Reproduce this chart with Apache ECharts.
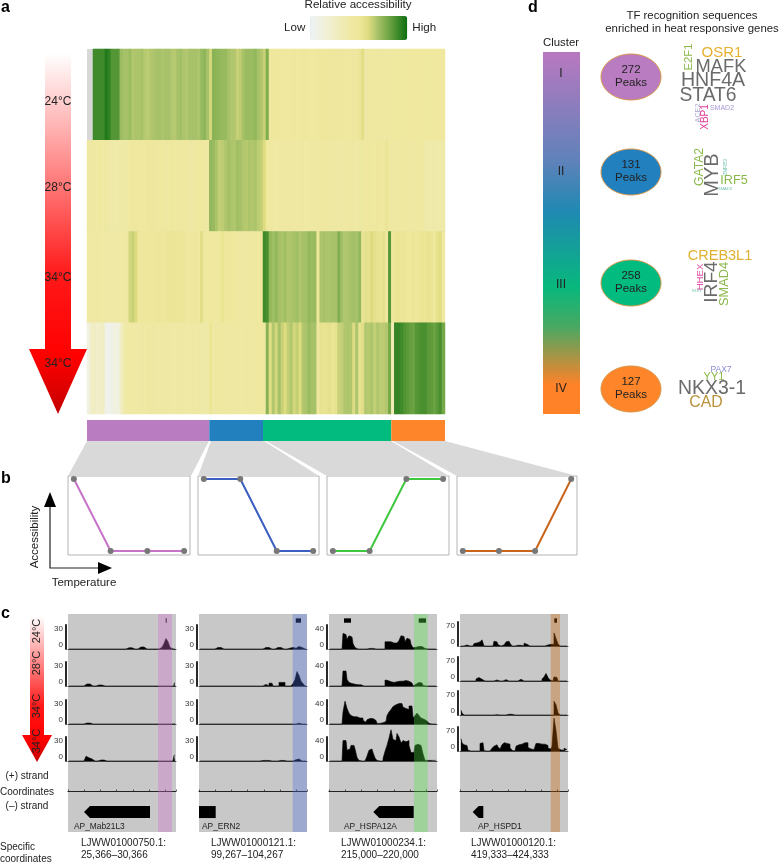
<!DOCTYPE html>
<html>
<head>
<meta charset="utf-8">
<style>
  html, body { margin: 0; padding: 0; background: #fff; }
  #chart { width: 781px; height: 863px; }
</style>
<script src="https://cdn.jsdelivr.net/npm/echarts@6/dist/echarts.min.js"></script>
</head>
<body>
<div id="chart"></div>
<script>
// panel a: relative accessibility, 4 conditions x 120 columns (null = no data)
const heatRow24 = [
  null,null,9.0,9.0,9.0,9.0,9.6,9.3,8.6,8.6,
  8.6,7.2,7.0,7.0,7.2,6.8,6.9,6.9,7.0,6.7,
  6.6,6.8,6.9,7.0,7.0,6.9,7.0,7.0,6.8,6.7,
  7.0,7.1,6.9,6.8,7.0,7.0,7.0,6.9,7.3,7.5,
  7.0,6.2,7.6,7.5,7.4,7.3,7.3,7.0,6.8,6.8,
  6.4,6.6,7.0,7.2,7.2,7.2,7.4,7.0,6.8,6.4,
  7.8,4.8,4.9,4.8,4.8,4.7,4.8,4.7,4.8,4.8,
  4.6,4.6,4.8,4.8,4.7,4.6,4.6,4.9,5.0,5.0,
  4.9,4.9,5.0,5.0,4.8,4.8,4.7,4.6,4.7,4.8,
  4.8,5.2,5.8,4.4,4.5,4.5,4.6,4.6,4.5,4.4,
  4.5,4.5,4.5,4.6,4.6,4.6,4.5,4.7,4.7,4.7,
  4.6,4.7,4.7,4.6,4.6,4.7,4.7,4.6,4.7,4.7
];
const heatRow28 = [
  4.3,4.4,4.3,4.2,4.6,4.2,4.3,3.9,3.9,3.8,
  3.9,4.0,3.9,4.0,4.7,4.8,4.8,4.7,4.7,4.6,
  4.9,4.8,4.8,4.7,4.7,4.6,4.5,4.6,4.8,4.6,
  4.5,4.5,4.7,4.7,4.4,4.4,4.5,4.7,4.7,4.5,
  4.4,7.4,7.3,6.9,6.5,6.6,6.8,7.0,6.9,6.8,
  7.1,7.0,6.8,6.7,6.9,6.8,6.9,6.6,6.5,6.0,
  4.6,4.5,4.3,4.2,4.3,4.2,4.4,4.3,4.3,4.3,
  4.2,4.4,4.4,4.2,4.4,4.3,4.3,4.4,4.5,4.6,
  4.4,4.3,4.4,4.5,4.2,4.3,4.4,4.2,4.3,4.5,
  4.2,4.4,4.5,4.7,4.8,4.6,4.6,4.9,4.6,4.7,
  5.2,4.6,4.3,4.4,4.3,4.5,4.4,4.4,4.3,4.3,
  4.5,4.6,4.4,3.9,3.8,3.8,3.9,3.8,3.8,3.9
];
const heatRow34a = [
  4.1,4.3,4.2,4.3,4.1,4.2,4.0,4.1,4.0,4.1,
  4.1,4.2,4.1,4.4,6.2,6.4,6.0,5.0,4.9,5.0,
  4.9,5.0,5.0,5.1,5.1,5.0,5.1,5.2,5.2,5.2,
  5.1,5.2,5.1,4.8,4.7,4.8,4.9,4.7,5.8,4.7,
  4.6,4.7,4.7,4.6,4.6,5.3,4.9,4.9,5.0,4.7,
  4.5,4.5,4.4,4.4,4.5,4.4,4.6,4.7,4.8,9.0,
  8.8,7.4,7.1,7.4,7.0,6.9,7.1,6.8,6.9,7.0,
  7.1,6.8,7.0,7.0,7.4,7.2,7.3,5.0,6.9,7.0,
  6.9,6.9,7.0,7.0,7.8,7.1,6.8,6.9,7.0,7.1,
  7.0,7.4,5.3,5.6,5.5,6.0,5.6,5.4,5.3,5.6,
  5.0,8.6,5.0,5.2,5.3,5.1,5.2,5.0,5.0,5.1,
  5.0,5.1,5.3,5.2,5.4,5.3,5.0,5.5,5.8,4.2
];
const heatRow34b = [
  1.0,2.4,2.6,2.2,2.4,2.6,0.6,0.5,0.8,1.2,
  1.0,2.4,3.8,4.1,4.2,4.1,4.2,4.1,4.3,4.2,
  4.4,4.3,4.4,4.3,4.2,4.4,4.3,4.4,4.2,4.2,
  4.4,4.3,4.4,4.2,4.1,4.3,4.2,4.3,4.0,4.0,
  4.0,5.2,4.4,4.5,4.4,4.5,4.5,4.3,4.4,4.4,
  4.3,4.2,4.4,4.5,4.4,4.4,4.5,4.6,4.7,4.4,
  7.6,5.8,6.8,6.2,7.0,6.4,6.0,6.5,6.8,6.2,
  6.5,6.0,6.8,6.9,7.2,7.0,7.0,4.8,5.5,5.3,
  5.4,5.6,5.2,5.5,6.4,6.5,6.8,6.9,6.8,6.0,
  6.9,5.5,5.8,6.8,6.7,6.9,6.5,6.8,6.6,6.6,
  6.8,8.0,3.0,9.2,9.2,9.0,8.7,8.5,8.3,8.2,
  8.6,8.7,8.8,8.8,8.5,8.4,8.2,8.5,8.8,8.0
];
const clusterColumns = [41, 18, 43, 18];
const clusterColors = ['#b97cc1', '#2380bf', '#02bb7e', '#ff852b'];

// panel b: accessibility pattern of each cluster over the four conditions
const patternI = [1, 0, 0, 0];
const patternII = [1, 1, 0, 0];
const patternIII = [0, 0, 1, 1];
const patternIV = [0, 0, 0, 1];

// panel c: signal per 2 px bin (54 bins), one list per locus and condition
const mab21_24 = [
  0,0,0,0,0,0,0,0,0,0,0,0,0,0,0,0,0,0,
  0,0,0,0,0,0,0,0,0,0,0,1.5,1.5,1.5,0,0,0,0,
  2.5,2.5,2.5,0,0,0,0,0,0,0,2,3,7,13,9,2,0,0
];
const mab21_28 = [
  0,0,0,0,0,0,0,0,2.5,2.5,2.5,0,0,0,0,1.2,1.2,1.2,
  0,0,0,0,0,0,0,0,0,0,0,0,0,0,0,0,0,0,
  0,0,0,0,0,0,0,0,0,0,0,0,0,0,0,0,0,3.5
];
const mab21_34a = [
  0,0,0,0,0,0,0,0,0,1.2,1.2,1.2,0,0,0,0,0,0,
  0,0,0,0,0,0,0,0,0,0,0,0,0,0,0,0,0,0,
  0,0,0,0,0,0,0,0,0,0,0,0,0,0,0,0,0,1
];
const mab21_34b = [
  0,0,0,0,0,0,0,0,2.5,6,4,2.5,0,0,0,1.2,1.2,1.2,
  0,0,0,0,0,0,0,0,0,0,0,0,0,0,0,0,0,0,
  0,0,0,0,0,0,0,0,0,0,0,0,0,0,0,0,0,7
];
const ern2_24 = [
  0,0,0,0,0,0,0,0,0,1.8,1.8,1.8,0,0,0,0,0,0,
  0,0,0,0,0,0,0,0,0,0,0,0,0,0,0,1.8,1.8,1.8,
  0,0,1.8,1.8,1.8,0,0,0,0,1,2,2,1,3,5,2,0,0
];
const ern2_28 = [
  0,0,0,0,0,0,0,0,0,0,0,0,0,0,0,0,0,0,
  0,0,0,0,0,0,0,0,0,0,0,0,0,0,2,2,0,3.5,
  3.5,0,0,0,4.5,4.5,4.5,0,0,0,0,3,8,18,13,6,3,0
];
const ern2_34a = [
  0,0,0,0,0,0,0,0,0,0,0,0,0,0,0,0,0,0,
  0,0,0,0,0,0,0,0,0,0,0,0,0,0,0,0,0,0,
  0,0,0,0,0,0,0,0,0,0,0,0,0,1,0,0,0,0
];
const ern2_34b = [
  0,0,0,0,0,0,0,0,0,0,0,0,0,0,0,0,0,0,
  0,0,0,0,0,0,0,0,0,0,0,0,0,0.7,0.7,0.7,0.7,0,
  0,0,0,0,0.7,0.7,0.7,0,0,0,0,0,1.5,2.5,1,0,0,0
];
const hspa_24 = [
  0,0,0,0,0,0,0,26,24,16,22,20,9,2.5,0,0,0,0,
  0,0,1,1,1,0,0,0,0,0,12,12,12,12,10,10,12,14,
  22,21,12,18,16,8,2,3,4,5,4,1,0,0,0,0,0,0
];
const hspa_28 = [
  0,0,0,0,0,0,0,25,25,11,6,4,3,2,2,2,2,0,
  0,0,0,0,0,0,0,0,0,0,10,9,7,6,6,7,7,8,
  8,9,9,8,6,5,0,3,6,8,5,1,0,0,0,0,0,0
];
const hspa_34a = [
  0,0,0,0,0,0,0,20,38,26,18,14,12,12,11,10,10,6,
  3,7,9,9,9,6,1,1,2,2,4,14,20,24,29,32,34,34,
  34,28,26,24,30,30,10,14,18,14,10,8,5,3,1,0,0,0
];
const hspa_34b = [
  0,0,0,0,0,0,0,34,34,18,20,26,26,20,6,1,0,0,
  0,8,18,20,14,5,1,0,0,4,16,26,38,52,36,34,46,40,
  30,34,32,34,26,14,14,26,28,26,24,12,1,1,1,1,1,1
];
const hspd_24 = [
  0,0,3,3,0,0,0,7,9,12,14,18,0,0,0,0,0,14,
  12,4,0,3,0,12,14,8,0,0,2,0,2,0,8,5,0,0,
  0,0,0,0,0,0,0,3,6,5,5,38,22,6,0,0,0,0
];
const hspd_28 = [
  0,0,0,0,0,0,0,0,6,10,5,0,0,0,0,0,0,0,
  3,0,0,0,4,0,0,0,0,0,0,0,5,0,0,0,0,0,
  0,0,0,0,0,6,12,22,10,3,0,12,10,0,0,0,0,0
];
const hspd_34a = [
  14,6,0,0,0,0,0,0,0,0,0,0,0,0,0,0,0,0,
  1,0,0,0,0,0,2,2,0,0,0,0,0,0,0,0,0,0,
  0,0,0,0,0,0,0,0,0,0,0,40,30,6,0,0,0,0
];
const hspd_34b = [
  36,24,18,16,2,0,0,0,0,0,22,24,1,0,0,0,8,14,
  18,12,6,18,24,22,20,10,2,0,14,18,20,20,24,24,10,6,
  4,0,22,22,20,22,20,16,8,6,14,96,60,8,3,2,8,4
];
const trackSets = [
  [mab21_24, mab21_28, mab21_34a, mab21_34b],
  [ern2_24, ern2_28, ern2_34a, ern2_34b],
  [hspa_24, hspa_28, hspa_34a, hspa_34b],
  [hspd_24, hspd_28, hspd_34a, hspd_34b]
];
const trackMax = [30, 30, 40, 70];
const conditions = ['24°C', '28°C', '34°C', '34°C'];
const geneNames = ['AP_Mab21L3', 'AP_ERN2', 'AP_HSPA12A', 'AP_HSPD1'];
const contigs = ['LJWW01000750.1:', 'LJWW01000121.1:', 'LJWW01000234.1:', 'LJWW01000120.1:'];
const contigRanges = ['25,366–30,366', '99,267–104,267', '215,000–220,000', '419,333–424,333'];
// positions inside each 5 kb window, in bp
const geneSpans = [[741, 3796], [0, 773], [2051, 3921], [588, 1079]];
const geneHasHead = [true, false, true, true];
const peakCalls = [[[4523, 4569]], [[4481, 4722]], [[694, 1019], [4153, 4491]], [[4366, 4491]]];
const highlightSpans = [[4167, 4815], [4338, 5000], [3935, 4569], [4199, 4630]];
const highlightColors = ['rgb(203,109,203)', 'rgb(77,111,220)', 'rgb(83,229,71)', 'rgb(203,97,0)'];

// panel d
const clusterNames = ['I', 'II', 'III', 'IV'];
const clusterPeaks = [272, 131, 258, 127];
const tfNames = [
  'OSR1', 'MAFK', 'HNF4A', 'STAT6', 'E2F1', 'ACE2', 'XBP1', 'SMAD2',
  'GATA2', 'MYB', 'IRF5', 'ZNF653', 'SMAD3',
  'CREB3L1', 'IRF4', 'HHEX', 'SMAD4', 'ELF1',
  'PAX7', 'YY1', 'NKX3-1', 'CAD'
];
// x, y, font size, colour, vertical
const tfPlacement = [
  [722, 53, 15, '#e8b030', 0], [721, 67, 18.3, '#6b6b6b', 0], [713, 81, 19.6, '#6b6b6b', 0],
  [708, 96, 19.3, '#6b6b6b', 0], [689, 57, 11.4, '#8ab84a', 1], [698, 113, 7.2, '#b0a4d0', 1],
  [705, 117, 10, '#e0409a', 1], [722, 108, 7, '#a898d8', 0],
  [700, 167, 12.2, '#8ab84a', 1], [712, 175, 20, '#6b6b6b', 1], [734, 181, 12.6, '#8ab84a', 0],
  [726, 167, 4.5, '#70c0b0', 1], [725, 189, 4, '#70c0b0', 0],
  [720, 256, 14.5, '#e0b030', 0], [712, 282, 19.2, '#6b6b6b', 1], [700, 277, 9.6, '#e050a8', 1],
  [724, 284, 12.8, '#8ab84a', 1], [697, 291, 4, '#70c0b0', 0],
  [721, 370, 8.5, '#8c8cd0', 0], [714, 377, 11, '#8ab84a', 0], [712, 389, 19.4, '#6b6b6b', 0],
  [706, 403, 15.8, '#b8923c', 0]
];

const FONT = '"Liberation Sans", Arial, sans-serif';
const chart = echarts.init(document.getElementById('chart'));

function txt(text, x, y, size, opts) {
  const o = opts || {};
  return {
    type: 'text', x: x, y: y, z: 50, rotation: o.vertical ? Math.PI / 2 : 0,
    style: {
      text: text, fontSize: size, fontFamily: FONT, fontWeight: o.bold ? 'bold' : 'normal',
      fill: o.color || '#222', align: o.align || 'center', verticalAlign: 'middle'
    }
  };
}

function redArrow(x0, x1, top, headY, hx0, hx1, tip) {
  const mid = (hx0 + hx1) / 2;
  return {
    type: 'polygon', z: 5,
    shape: { points: [[x0, top], [x1, top], [x1, headY], [hx1, headY], [mid, tip], [hx0, headY], [x0, headY]] },
    style: {
      fill: new echarts.graphic.LinearGradient(0, 0, 0, 1, [
        { offset: 0, color: '#ffffff' },
        { offset: 0.62, color: '#ff1818' },
        { offset: 0.84, color: '#ff0000' },
        { offset: 1, color: '#c40000' }
      ])
    }
  };
}

function blackPoly(points) {
  return { type: 'polygon', z: 5, shape: { points: points }, style: { fill: '#000' } };
}

const grids = [];
const xAxes = [];
const yAxes = [];
const series = [];

function addGrid(grid, xAxis, yAxis) {
  grids.push(grid);
  xAxes.push(Object.assign({ gridIndex: grids.length - 1 }, xAxis));
  yAxes.push(Object.assign({ gridIndex: grids.length - 1 }, yAxis));
  return grids.length - 1;
}

// heatmap
const heatRows = [heatRow24, heatRow28, heatRow34a, heatRow34b];
const heatData = [];
heatRows.forEach((row, r) => row.forEach((v, c) => heatData.push([c, r, v])));
const heatGrid = addGrid(
  { left: 87, top: 49, width: 358, height: 365, show: true, backgroundColor: '#d8d8d8', borderWidth: 0 },
  { type: 'category', show: false, data: heatRow24.map((v, i) => i) },
  { type: 'category', show: false, inverse: true, data: conditions.map((c, i) => i) }
);
series.push({ type: 'heatmap', xAxisIndex: heatGrid, yAxisIndex: heatGrid, data: heatData, silent: true });

// cluster colour strip
const stripGrid = addGrid(
  { left: 87, top: 420, width: 358, height: 21 },
  { type: 'value', show: false, min: 0, max: 120 },
  { type: 'category', show: false, data: ['clusters'] }
);
clusterColumns.forEach((n, i) => {
  series.push({
    type: 'bar', stack: 'clusters', xAxisIndex: stripGrid, yAxisIndex: stripGrid,
    data: [n], barWidth: '100%', itemStyle: { color: clusterColors[i] }, silent: true
  });
});

// pattern line plots
const patterns = [patternI, patternII, patternIII, patternIV];
const patternColors = ['#c673c9', '#3b5fc0', '#3fc83f', '#c8651b'];
const patternBoxes = [[68, 122], [198, 121], [327, 122], [457, 120]];
patterns.forEach((p, i) => {
  const g = addGrid(
    { left: patternBoxes[i][0], top: 476, width: patternBoxes[i][1], height: 79, show: true,
      backgroundColor: '#fff', borderColor: '#b4b4b4', borderWidth: 1 },
    { type: 'value', show: false, min: -0.16, max: 3.16 },
    { type: 'value', show: false, min: -0.055, max: 1.042 }
  );
  series.push({
    type: 'line', xAxisIndex: g, yAxisIndex: g, data: p.map((v, k) => [k, v]),
    symbol: 'circle', symbolSize: 6, silent: true, clip: false,
    lineStyle: { color: patternColors[i], width: 2 }, itemStyle: { color: '#777' }
  });
});

// genome browser panels: grey window, coordinate axis, genes, peak calls, highlight
const panelLefts = [68, 199, 329, 460];
function spanRect(api, lo, hi, fill, opacity) {
  const a = api.coord([api.value(0), hi]);
  const b = api.coord([api.value(1), lo]);
  return {
    type: 'rect', shape: { x: a[0], y: a[1], width: b[0] - a[0], height: b[1] - a[1] },
    style: { fill: fill, opacity: opacity }
  };
}
panelLefts.forEach((left, i) => {
  const g = addGrid(
    { left: left, top: 614, width: 108, height: 218, show: true, backgroundColor: '#c8c8c8', borderWidth: 0 },
    { type: 'value', min: 0, max: 5000, interval: 750, offset: -41,
      axisLine: { show: true, onZero: false, lineStyle: { color: '#222', width: 1.2 } },
      axisTick: { show: true, inside: true, length: 1.5, lineStyle: { color: '#333', width: 0.8 } },
      axisLabel: { show: false }, splitLine: { show: false } },
    { type: 'value', show: false, min: 0, max: 1 }
  );
  series.push({
    type: 'custom', xAxisIndex: g, yAxisIndex: g, z: 4, silent: true, clip: false,
    data: [geneSpans[i]],
    renderItem: (params, api) => {
      const a = api.coord([api.value(0), 0.119]);
      const b = api.coord([api.value(1), 0.064]);
      const midY = (a[1] + b[1]) / 2;
      const head = geneHasHead[i] ? 6 : 0;
      return {
        type: 'polygon',
        shape: { points: [[a[0], midY], [a[0] + head, a[1]], [b[0], a[1]], [b[0], b[1]], [a[0] + head, b[1]]] },
        style: { fill: '#000' }
      };
    }
  });
  series.push({
    type: 'custom', xAxisIndex: g, yAxisIndex: g, z: 4, silent: true, clip: false,
    data: peakCalls[i],
    renderItem: (params, api) => spanRect(api, 0.96, 0.98, '#000', 1)
  });
  series.push({
    type: 'custom', xAxisIndex: g, yAxisIndex: g, z: 10, silent: true, clip: false,
    data: [highlightSpans[i]],
    renderItem: (params, api) => spanRect(api, 0, 1, highlightColors[i], 0.35)
  });
});

// signal tracks
const baselines = [
  [649, 686, 724, 761], [649, 686, 724, 761], [649, 686, 724, 761], [646, 681, 715, 751]
];
trackSets.forEach((tracks, i) => {
  tracks.forEach((values, k) => {
    const g = addGrid(
      { left: panelLefts[i], top: baselines[i][k] - 24, width: 108, height: 24 },
      { type: 'category', data: values.map((v, n) => n), axisTick: { show: false }, axisLabel: { show: false },
        axisLine: { show: true, lineStyle: { color: '#444', width: 1 } } },
      { type: 'value', min: 0, max: trackMax[i], interval: trackMax[i], offset: 2,
        axisLine: { show: true, lineStyle: { color: '#111', width: 1.8 } }, axisTick: { show: false },
        axisLabel: { fontSize: 8, color: '#333', margin: 3, fontFamily: FONT,
          verticalAlignMinLabel: 'bottom', verticalAlignMaxLabel: 'top' },
        splitLine: { show: false } }
    );
    series.push({
      type: 'line', step: 'middle', xAxisIndex: g, yAxisIndex: g, data: values, clip: false,
      symbol: 'none', silent: true, lineStyle: { color: '#000', width: 0.6 },
      areaStyle: { color: '#000', opacity: 1, origin: 'start' }
    });
  });
});

// everything that is annotation rather than data
const graphics = [];
[[[87, 441], [209, 441], [191, 476], [68, 476]],
 [[211, 441], [264, 441], [319, 476], [198, 476]],
 [[266, 441], [391, 441], [449, 476], [327, 476]],
 [[393, 441], [445, 441], [577, 476], [457, 476]]].forEach(pts => {
  graphics.push({ type: 'polygon', z: 1, shape: { points: pts }, style: { fill: '#d9d9d9' } });
});

graphics.push(txt('a', 1, 8, 16, { bold: true, align: 'left', color: '#000' }));
graphics.push(txt('b', 1, 479, 16, { bold: true, align: 'left', color: '#000' }));
graphics.push(txt('c', 1, 614, 16, { bold: true, align: 'left', color: '#000' }));
graphics.push(txt('d', 528, 8, 16, { bold: true, align: 'left', color: '#000' }));
graphics.push(txt('Relative accessibility', 358, 5, 11.6));

graphics.push(redArrow(45, 71, 53, 349, 29, 87, 414));
[102, 188, 278, 364].forEach((y, i) => graphics.push(txt(conditions[i], 58, y, 12)));

// panel b axes
graphics.push({ type: 'polyline', z: 5, shape: { points: [[50, 505], [50, 568], [100, 568]] }, style: { stroke: '#222', lineWidth: 1.2, fill: null } });
graphics.push(blackPoly([[50, 492], [56, 507], [44, 507]]));
graphics.push(blackPoly([[112, 568], [98, 562], [98, 574]]));
graphics.push(txt('Accessibility', 35, 537, 11.5, { vertical: true }));
graphics.push(txt('Temperature', 84, 583, 11.5));

// panel c labels
graphics.push(redArrow(30, 44, 616, 735, 22, 52, 762));
[631, 663, 706, 741].forEach((y, i) => graphics.push(txt(conditions[i], 37, y, 11, { vertical: true })));
graphics.push(txt('(+) strand', 27, 776, 10));
graphics.push(txt('Coordinates', 27, 792, 10));
graphics.push(txt('(–) strand', 27, 806, 10));
graphics.push(txt('Specific', 0, 847, 10, { align: 'left' }));
graphics.push(txt('coordinates', 0, 859, 10, { align: 'left' }));
[74, 202, 344, 478].forEach((x, i) => graphics.push(txt(geneNames[i], x, 827, 8.4, { align: 'left' })));
[81, 211, 341, 471].forEach((x, i) => {
  graphics.push(txt(contigs[i], x, 843, 10, { align: 'left' }));
  graphics.push(txt(contigRanges[i], x, 855, 10, { align: 'left' }));
});

// panel d
graphics.push(txt('TF recognition sequences', 692, 16, 11.4));
graphics.push(txt('enriched in heat responsive genes', 692, 29, 11.4));
graphics.push(txt('Cluster', 561, 43, 11.4));
graphics.push({
  type: 'rect', z: 5, shape: { x: 543, y: 52, width: 37, height: 362 },
  style: {
    fill: new echarts.graphic.LinearGradient(0, 0, 0, 1, [
      { offset: 0, color: '#b978c0' },
      { offset: 0.3, color: '#5f82ba' },
      { offset: 0.44, color: '#1f89b3' },
      { offset: 0.65, color: '#08b87c' },
      { offset: 0.76, color: '#4aa862' },
      { offset: 0.92, color: '#ff8229' },
      { offset: 1, color: '#ff8229' }
    ])
  }
});
[74, 172, 285, 389].forEach((y, i) => graphics.push(txt(clusterNames[i], 561, y, 12)));
[77, 172, 283, 389].forEach((y, i) => {
  graphics.push({
    type: 'ellipse', z: 5, shape: { cx: 631, cy: y, rx: 30, ry: 23 },
    style: { fill: clusterColors[i], stroke: '#d89a50', lineWidth: 1 }
  });
  graphics.push(txt(String(clusterPeaks[i]), 631, y - 7, 11.5));
  graphics.push(txt('Peaks', 631, y + 6, 11.5));
});
tfNames.forEach((name, i) => {
  const p = tfPlacement[i];
  graphics.push(txt(name, p[0], p[1], p[2], { color: p[3], vertical: p[4] === 1 }));
});

chart.setOption({
  animation: false,
  backgroundColor: '#fff',
  textStyle: { fontFamily: FONT },
  grid: grids,
  xAxis: xAxes,
  yAxis: yAxes,
  visualMap: {
    type: 'continuous', seriesIndex: 0, dimension: 2, min: 0, max: 10, calculable: false,
    orient: 'horizontal', left: 269, top: 1, itemWidth: 24, itemHeight: 97, itemGap: 5,
    text: ['High', 'Low'], textGap: 5, textStyle: { fontSize: 11.6, color: '#222', fontFamily: FONT },
    inRange: {
      color: ['#edf2f6', '#f1f1e2', '#f1efd0', '#f0ecba', '#efe9a6', '#efe79b', '#dedc80', '#a6c168', '#76a848', '#3f8a2a', '#0e6e10']
    }
  },
  series: series,
  graphic: { elements: graphics }
});
</script>
</body>
</html>
